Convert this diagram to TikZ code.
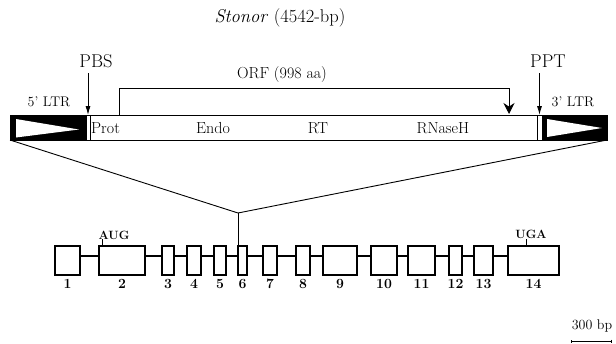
\documentclass[tikz,border=0pt]{standalone}
\usepackage{tikz}
\usetikzlibrary{arrows.meta,calc,positioning}

\begin{document}
\begin{tikzpicture}[x=1pt,y=-1pt,
    lbl/.style={font=\fontsize{16}{18}\selectfont,inner sep=0pt},
    biglbl/.style={font=\fontsize{18.5}{20}\selectfont,inner sep=0pt},
    ltrlbl/.style={font=\fontsize{14}{16}\selectfont,inner sep=0pt},
    num/.style={font=\fontsize{14}{16}\selectfont\bfseries,inner sep=0pt},
    codon/.style={font=\fontsize{12}{14}\selectfont\bfseries,inner sep=0pt},
    barpart/.style={draw,line width=.9pt,minimum height=25pt,inner sep=0pt,outer sep=0pt},
    exon/.style={draw,line width=1.1pt,fill=white,minimum height=29pt,inner sep=0pt,outer sep=0pt},
    intron/.style={line width=1.6pt},
    sitearrow/.style={line width=.8pt,-{Latex[length=9pt,width=5pt]}}
  ]
  \useasboundingbox (0,0) rectangle (616,343);

  % title
  \node[biglbl] (title) at (280,18) {\textit{Stonor} (4542-bp)};

  % element
  \node[barpart,fill=black,minimum width=76pt] (ltr5) at (48,127.5) {};
  \node[barpart,fill=white,minimum width=4pt] (stripe5) at (88,127.5) {};
  \node[barpart,fill=white,minimum width=447pt] (orfbox) at (313.5,127.5) {};
  \node[barpart,fill=white,minimum width=5pt] (stripe3) at (539.5,127.5) {};
  \node[barpart,fill=black,minimum width=65pt] (ltr3) at (574.5,127.5) {};
  \fill[white] ($(ltr5.west)+(6,-8.5)$) -- ($(ltr5.west)+(6,10)$) -- ($(ltr5.west)+(69,2)$) -- cycle;
  \fill[white] ($(ltr3.west)+(5,-8.5)$) -- ($(ltr3.west)+(5,9.5)$) -- ($(ltr3.west)+(60,0.5)$) -- cycle;

  \node[lbl,anchor=west] (prot) at (91,128) {Prot};
  \node[lbl] (endo) at (213,128) {Endo};
  \node[lbl] (rt) at (318,128) {RT};
  \node[lbl] (rnaseh) at (443,128) {RNaseH};

  \node[ltrlbl] (ltr5lbl) at (49,102) {5' LTR};
  \node[ltrlbl] (ltr3lbl) at (573,102) {3' LTR};

  % PBS / PPT
  \node[biglbl] (pbs) at (96,61) {PBS};
  \draw[sitearrow] ($(stripe5.north)+(0,-42)$) -- (stripe5.north);
  \node[biglbl] (ppt) at (548,61) {PPT};
  \draw[sitearrow] ($(stripe3.north)+(0,-42)$) -- (stripe3.north);

  % ORF
  \coordinate (orfA) at (119,115);
  \coordinate (orfB) at (509,114);
  \draw[line width=.9pt,-{Stealth[length=11pt,width=11pt]}] (orfA) -- ++(0,-27) -| (orfB);
  \node[lbl] (orf) at (282,75) {ORF (998 aa)};

  % exons
  \foreach \xa/\xb/\n in {55/80/1,99/145/2,162/174/3,187/201/4,214/226/5,
      238/247/6,263/277/7,296/310/8,323/357/9,371/397/10,408/435/11,
      449/462/12,474/493/13,508/559/14}{
    \pgfmathsetmacro\xc{(\xa+\xb)/2}
    \pgfmathsetmacro\w{\xb-\xa}
    \node[exon,minimum width=\w pt] (ex\n) at (\xc,260.5) {};
    \node[num] (num\n) at (\xc,284) {\n};
  }
  \foreach \a in {1,...,13}{
    \pgfmathtruncatemacro\b{\a+1}
    \draw[intron] ([yshift=4.5pt]ex\a.east) -- ([yshift=4.5pt]ex\b.west);
  }

  % zoom lines
  \coordinate (join) at (238,213);
  \draw[line width=.9pt] (ltr5.south west) -- (join) -- (ltr3.south east);
  \draw[line width=.9pt] (join) -- (ex6.north west);

  % start / stop codons
  \node[codon] (aug) at (114,235) {AUG};
  \draw[line width=.9pt] ($(ex2.north west)+(3,0)$) -- ++(0,-7);
  \node[codon] (uga) at (531,234) {UGA};
  \draw[line width=.9pt] ($(ex14.north west)+(18,0)$) -- ++(0,-7);

  % scale bar
  \coordinate (sbA) at (571,341);
  \coordinate (sbB) at (612,341);
  \draw[line width=.9pt,{Bar[width=3pt]}-{Bar[width=3pt]}] (sbA) -- (sbB);
  \node[ltrlbl] (sblbl) at (592,326) {300 bp};
\end{tikzpicture}
\end{document}
